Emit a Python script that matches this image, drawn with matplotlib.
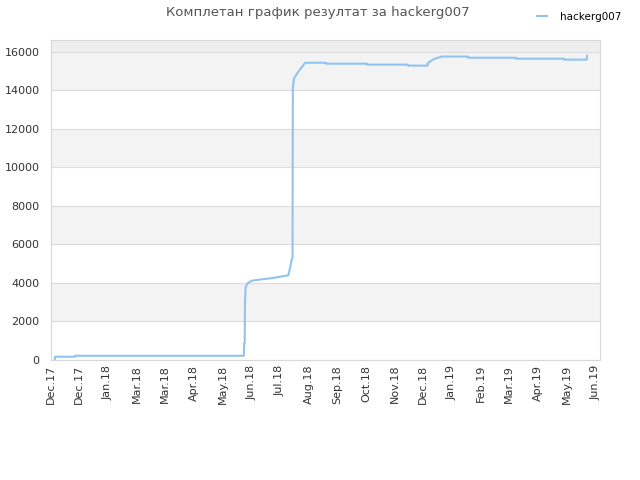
import numpy as np
import matplotlib.pyplot as plt

# x positions in tick units (0 = first tick, 19 = last tick)
x_vals = [0.14, 0.15, 0.84, 0.85, 6.74, 6.75, 6.77, 6.78, 6.80, 6.85, 6.90, 7.02, 7.36,
          7.76, 8.29, 8.35, 8.41, 8.44, 8.45, 8.49, 8.64, 8.88, 9.60, 9.61, 11.03, 11.04,
          12.46, 12.47, 13.15, 13.16, 13.38, 13.65, 14.56, 14.57, 16.23, 16.24, 17.91,
          17.92, 18.71, 18.72]
scores = [0, 170, 170, 220, 220, 860, 860, 2940, 3740, 3950, 4015, 4120, 4190,
          4260, 4400, 4760, 5230, 5300, 14110, 14630, 14970, 15440, 15440, 15390, 15390, 15340,
          15340, 15290, 15290, 15420, 15640, 15760, 15760, 15700, 15700, 15650, 15650,
          15600, 15600, 15800]
tick_labels = ["Dec.17", "Dec.17", "Jan.18", "Mar.18", "Mar.18", "Apr.18", "May.18",
               "Jun.18", "Jul.18", "Aug.18", "Sep.18", "Oct.18", "Nov.18", "Dec.18",
               "Jan.19", "Feb.19", "Mar.19", "Apr.19", "May.19", "Jun.19"]
y_ticks = [0, 2000, 4000, 6000, 8000, 10000, 12000, 14000, 16000]

fig = plt.figure(figsize=(6.4, 4.8), dpi=100)
ax = fig.add_axes([50.7 / 640, 1 - 360 / 480, (600 - 50.7) / 640, (360 - 40) / 480])

ymax = 16620
# alternating background bands
for lo in range(0, 16000, 2000):
    if (lo // 2000) % 2 == 1:
        ax.axhspan(lo, lo + 2000, color="#f3f3f3", zorder=0, lw=0)
ax.axhspan(16000, ymax, color="#eeeeee", zorder=0, lw=0)

ax.plot(x_vals, scores, color="#90c3f2", lw=1.5, label="hackerg007", zorder=3)

ax.set_xlim(0, 19.17)
ax.set_ylim(0, ymax)
ax.set_yticks(y_ticks)
ax.set_yticklabels([str(v) for v in y_ticks])
ax.set_xticks(range(len(tick_labels)))
ax.set_xticklabels(tick_labels, rotation=90)
ax.tick_params(axis="both", length=0, labelsize=8, colors="#333333")
ax.tick_params(axis="y", pad=8)
ax.grid(axis="y", color="#dddddd", lw=0.8, zorder=1)
ax.set_axisbelow(True)
for s in ax.spines.values():
    s.set_color("#d8d8d8")

fig.text(0.497, 0.988, "Комплетан график резултат за hackerg007", ha="center", va="top",
         fontsize=9.5, color="#555555")
fig.legend(loc="upper right", bbox_to_anchor=(0.985, 0.995), frameon=False, fontsize=7.5,
           handlelength=1.0, handletextpad=1.2)

fig.savefig("out.png")
